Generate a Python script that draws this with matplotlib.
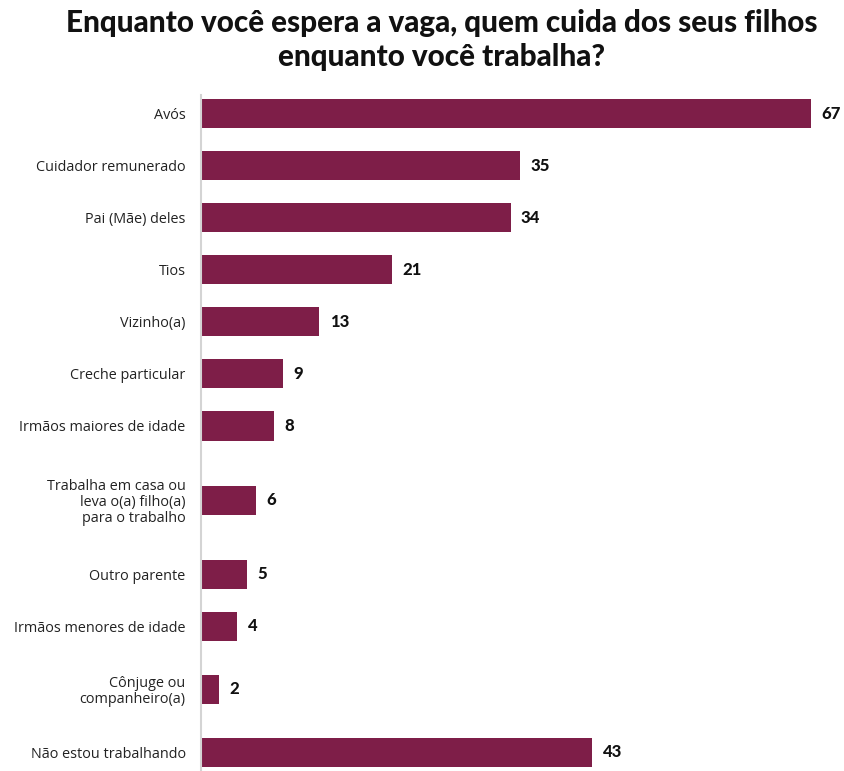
import matplotlib
matplotlib.use("Agg")
import matplotlib.pyplot as plt

# Survey answers: who looks after the children while the parent works
categories = [
    "Avós",
    "Cuidador remunerado",
    "Pai (Mãe) deles",
    "Tios",
    "Vizinho(a)",
    "Creche particular",
    "Irmãos maiores de idade",
    "Trabalha em casa ou\nleva o(a) filho(a)\npara o trabalho",
    "Outro parente",
    "Irmãos menores de idade",
    "Cônjuge ou\ncompanheiro(a)",
    "Não estou trabalhando",
]
values = [67, 35, 34, 21, 13, 9, 8, 6, 5, 4, 2, 43]

title = "Enquanto você espera a vaga, quem cuida dos seus filhos\nenquanto você trabalha?"

BAR_COLOR = "#7E1E48"
AXIS_COLOR = "#D4D4D4"

# Row positions: taller rows for multi-line labels
base_gap = 52.0
extra_per_line = 11.0
extra = [c.count("\n") for c in categories]
positions = [0.0]
for i in range(1, len(categories)):
    positions.append(positions[-1] + base_gap + extra_per_line * (extra[i - 1] + extra[i]))

W, H = 844, 771
fig = plt.figure(figsize=(W / 100, H / 100), dpi=100)
fig.patch.set_facecolor("white")

ax_left, ax_top, ax_bottom = 201, 95, 771
ax_right = 844
ax = fig.add_axes([ax_left / W, 1 - ax_bottom / H, (ax_right - ax_left) / W, (ax_bottom - ax_top) / H])

pad = 18.5
ax.set_ylim(positions[-1] + pad, -pad)
ax.set_xlim(0, max(values) * (ax_right - ax_left) / 610)

ax.barh(positions, values, height=29, color=BAR_COLOR, edgecolor="none")

label_font = ["Open Sans", "DejaVu Sans"]
value_font = ["Lato", "DejaVu Sans"]

for p, v in zip(positions, values):
    ax.annotate(str(v), xy=(v, p), xytext=(7.5, 0), textcoords="offset points",
                ha="left", va="center", fontsize=12, fontweight="black",
                family=value_font, color="#111111")

ax.set_yticks(positions)
ax.set_yticklabels(categories, family=label_font, fontsize=10.4, color="#222222",
                   linespacing=1.1)
ax.tick_params(axis="y", length=0, pad=11)
ax.set_xticks([])

for side in ["top", "right", "bottom"]:
    ax.spines[side].set_visible(False)
ax.spines["left"].set_color(AXIS_COLOR)
ax.spines["left"].set_linewidth(1.5)

fig.text(0.523, 1 - 40 / H, title, ha="center", va="center", fontsize=21.3,
         fontweight="black", family=value_font, color="#111111", linespacing=1.3)

fig.savefig("out.png", dpi=100, facecolor="white")
